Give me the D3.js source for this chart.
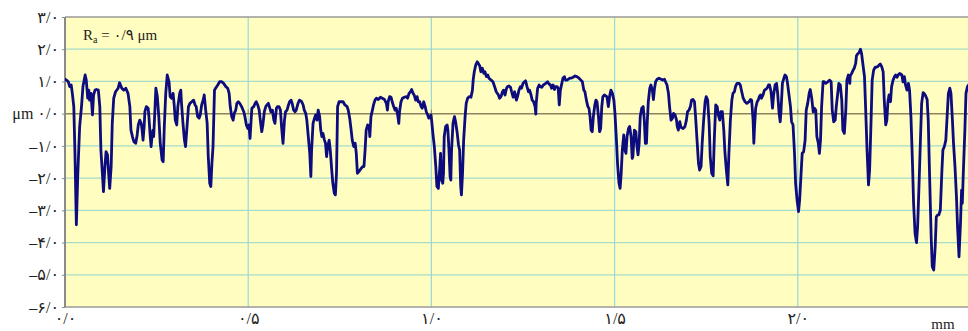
<!DOCTYPE html>
<html>
<head>
<meta charset="utf-8">
<script src="https://cdn.jsdelivr.net/npm/d3@7/dist/d3.min.js"></script>
<style>
  html, body { margin: 0; padding: 0; background: #ffffff; }
  svg { display: block; }
  text { font-family: "Liberation Serif", "DejaVu Serif", "DejaVu Sans", serif; fill: #222; }
</style>
</head>
<body>
<svg id="chart" width="968" height="331"></svg>
<script>
// Surface profile: position along the trace (µm) and profile height (µm)
const positionUm = [
  0,4,9,13,17,20,24,27,31,35,40,45,49,55,58,62,65,67,71,75,78,82,86,91,95,98,102,105,109,112,116,119,122,126,129,133,138,145,149,155,160,166,172,177,180,184,188,193,197,200,204,208,210,213,216,218,222,227,229,232,235,237,240,242,245,248,252,256,260,265,268,271,275,279,284,287,291,295,298,301,305,308,313,316,318,322,326,329,333,337,341,346,351,355,358,362,366,369,373,377,380,384,388,391,395,398,401,
  404,408,411,417,422,428,433,439,444,448,451,455,459,462,466,469,473,477,482,488,491,495,499,502,505,508,510,515,519,522,526,530,533,537,540,544,548,551,555,559,562,566,570,573,577,580,584,588,591,595,599,602,606,610,613,617,620,624,628,631,636,640,646,650,653,657,660,664,668,671,673,677,681,684,688,691,695,698,701,704,708,711,714,717,721,724,728,731,735,738,741,744,748,753,759,764,770,773,777,781,784,788,792,795,798,802,808,813,
  816,819,822,826,830,832,835,839,842,846,850,855,861,866,872,877,880,882,886,890,893,897,901,904,908,911,913,917,921,926,932,935,939,943,946,950,953,957,961,964,968,972,975,979,983,986,990,993,996,999,1001,1004,1008,1012,1015,1019,1023,1025,1028,1031,1033,1035,1039,1043,1045,1048,1051,1053,1055,1059,1063,1066,1070,1074,1077,1080,1082,1085,1088,1092,1095,1099,1103,1108,1112,1114,1117,1121,1125,1128,1132,1135,1139,1143,1146,1150,1154,1157,1163,1168,1174,1177,1183,1186,1190,1194,1197,1201,1205,1208,1212,1216,1219,1223,
  1227,1232,1235,1239,1243,1246,1250,1254,1257,1261,1265,1268,1272,1275,1279,1283,1285,1286,1290,1294,1297,1301,1306,1312,1317,1321,1325,1328,1332,1336,1339,1343,1346,1349,1352,1356,1359,1363,1366,1370,1374,1377,1381,1387,1392,1397,1403,1408,1412,1416,1419,1423,1427,1430,1433,1436,1439,1442,1446,1449,1452,1456,1459,1462,1465,1468,1472,1476,1479,1483,1487,1490,1494,1498,1501,1505,1508,1512,1515,1518,1521,1525,1528,1531,1534,1538,1541,1545,1548,1550,1554,1558,1561,1564,1567,1570,1574,1578,1581,1584,1587,1589,1592,1596,1599,1603,1606,1609,1612,1616,1621,1627,1632,
  1636,1639,1643,1647,1650,1654,1658,1661,1665,1669,1671,1674,1678,1681,1687,1692,1696,1699,1703,1707,1710,1714,1718,1721,1725,1729,1732,1736,1739,1743,1747,1750,1754,1758,1761,1765,1769,1772,1776,1780,1783,1787,1790,1794,1798,1801,1805,1809,1812,1816,1820,1823,1827,1830,1834,1840,1843,1847,1851,1856,1861,1867,1871,1874,1878,1880,1882,1885,1889,1892,1895,1898,1901,1905,1909,1912,1916,1920,1923,1927,1931,1934,1938,1942,1945,1949,1952,1954,1958,1962,1965,1969,1972,1976,1980,1983,1987,1991,1994,1998,2002,2005,2009,2012,2016,2020,2023,2027,2031,2034,2038,2042,
  2045,2049,2052,2056,2059,2062,2065,2069,2072,2076,2082,2087,2091,2094,2098,2102,2105,2109,2112,2116,2120,2123,2127,2131,2134,2138,2142,2143,2147,2151,2154,2158,2160,2163,2167,2171,2174,2178,2182,2185,2189,2193,2196,2200,2203,2207,2211,2214,2218,2222,2225,2229,2233,2236,2240,2243,2246,2249,2253,2256,2260,2264,2267,2271,2274,2278,2284,2287,2291,2294,2298,2302,2305,2309,2313,2316,2320,2324,2327,2331,2335,2338,2342,2345,2349,2353,2356,2360,2364,2367,2371,2375,2378,2382,2385,2389,2393,2396,2400,2404,2407,2411,2415,2418,2422,2425,2429,2433,2436,2440,2444,2447,2449,2452,2456,2459,2463,2466
];
const heightUm = [
  1.07,1.04,0.99,0.84,0.89,0.63,0.22,-1.13,-3.45,-1.85,-0.40,0.22,0.84,1.20,1.04,0.48,0.73,0.42,0.63,-0.04,0.58,0.73,0.75,0.73,0.22,-1.13,-1.85,-2.42,-1.64,-1.18,-1.28,-1.85,-2.32,-1.64,-0.30,0.48,0.68,0.79,0.96,0.79,0.73,0.79,0.63,0.22,-0.51,-0.71,-0.87,-0.92,-0.66,-0.35,-0.20,-0.30,-0.46,-0.82,-0.40,0.06,0.22,0.17,-0.09,-0.61,-1.02,-0.77,-0.51,-0.71,0.01,0.79,0.53,-0.09,-0.92,-1.44,-1.49,-0.40,0.63,1.20,0.99,0.53,0.48,0.63,0.27,-0.20,-0.35,0.22,0.63,0.73,0.32,-0.30,-0.82,-1.02,-0.40,0.22,0.32,0.37,0.42,0.27,0.22,-0.09,-0.14,-0.04,0.27,0.42,0.58,0.11,-0.30,-1.33,-2.16,-2.26,-1.54,
  -1.02,0.73,0.79,0.89,0.99,0.99,0.94,0.84,0.79,0.63,0.22,-0.09,-0.20,0.01,0.11,0.32,0.37,0.32,0.22,0.06,-0.09,-0.35,-0.46,-0.35,-0.77,-0.20,0.17,0.22,0.32,0.37,0.27,0.11,-0.20,-0.56,-0.35,0.06,0.22,0.27,0.32,0.17,0.06,0.11,-0.20,-0.30,0.17,0.22,0.22,0.11,-0.40,-0.92,-0.20,0.06,0.11,0.27,0.37,0.42,0.32,0.11,0.06,0.11,0.32,0.42,0.37,0.27,0.11,0.01,-0.20,-0.71,-1.23,-1.95,-1.13,-0.30,-0.14,-0.04,-0.20,0.11,-0.09,-0.51,-0.71,-0.61,-0.82,-0.92,-1.33,-1.02,-0.82,-1.13,-1.75,-2.16,-2.47,-2.52,-1.85,0.22,0.37,0.37,0.37,0.27,0.22,0.11,-0.14,-0.51,-0.82,-1.02,-0.92,-1.23,-1.85,-1.80,-1.70,-1.64,
  -1.64,-1.13,-0.51,-0.35,-0.40,-0.71,-0.09,0.11,0.27,0.42,0.48,0.44,0.51,0.48,0.44,0.32,0.11,0.37,0.53,0.51,0.37,0.22,0.11,0.17,-0.04,-0.30,0.06,0.37,0.48,0.51,0.53,0.48,0.63,0.68,0.75,0.63,0.58,0.42,0.53,0.37,0.37,0.22,0.17,0.37,0.22,0.06,-0.04,-0.14,-0.09,-0.04,-0.25,-0.61,-1.02,-1.64,-2.26,-2.32,-1.64,-1.23,-2.06,-2.16,-1.85,-0.71,-0.40,-0.35,-0.51,-1.13,-1.95,-2.06,-1.13,-0.30,-0.09,-0.25,-0.56,-0.97,-1.13,-2.26,-2.52,-1.85,-0.82,-0.09,0.32,0.48,0.53,0.51,0.73,1.04,1.30,1.51,1.61,1.56,1.48,1.30,1.41,1.25,1.30,1.15,1.20,1.10,1.04,0.99,0.79,0.68,0.58,0.48,0.53,0.68,0.73,0.58,0.79,0.84,0.86,0.82,0.68,0.51,
  0.68,0.42,0.53,0.73,0.84,0.79,0.94,0.99,1.02,0.84,0.68,0.73,0.58,0.42,0.37,0.22,-0.01,0.32,0.79,0.89,0.84,0.82,0.89,0.94,0.99,0.92,0.89,0.79,0.89,0.75,0.84,0.84,0.79,0.27,0.73,0.94,1.10,1.15,1.04,1.04,1.07,1.10,1.10,1.13,1.17,1.15,1.10,1.04,0.99,0.73,0.68,0.42,0.22,0.17,-0.09,-0.51,-0.56,-0.09,0.27,0.42,0.37,-0.09,-0.56,-0.46,0.22,0.53,0.58,0.55,0.53,0.22,0.58,0.73,0.63,0.42,0.01,-0.82,-1.54,-2.16,-2.32,-1.85,-1.13,-0.66,-1.13,-1.23,-0.71,-0.46,-0.40,-0.71,-1.39,-1.33,-0.51,-0.56,-1.02,-1.28,-0.92,-0.09,0.17,0.22,-0.20,-0.92,-0.92,-0.30,0.37,0.79,0.89,0.73,0.44,0.79,0.99,1.07,1.10,1.07,1.04,
  1.07,0.99,0.89,0.63,0.22,-0.20,-0.14,0.01,-0.04,-0.20,-0.40,-0.51,-0.25,-0.42,-0.46,-0.40,-0.20,0.06,0.11,0.22,0.42,0.44,0.37,-0.09,-0.82,-1.54,-1.75,-1.64,-0.92,-0.20,0.37,0.53,0.42,-0.30,-1.33,-1.85,-1.93,-0.82,0.27,0.22,-0.04,-0.20,0.06,0.06,-0.51,-1.18,-1.75,-2.21,-1.23,-0.20,0.42,0.63,0.68,0.84,0.94,0.94,0.89,0.68,0.48,0.37,0.32,0.37,0.44,0.42,-0.20,-0.92,-0.40,0.17,0.37,0.42,0.53,0.58,0.48,0.58,0.73,0.75,0.79,0.89,0.89,0.68,0.17,0.58,0.89,0.94,0.63,0.01,-0.25,0.06,0.94,1.10,1.20,1.15,0.94,0.58,0.22,-0.25,-0.35,-1.23,-2.16,-2.68,-3.04,-2.68,-1.85,-1.23,-1.18,-0.82,0.11,0.32,0.63,0.75,0.48,0.06,
  0.17,0.11,-0.71,-0.92,-1.23,-0.82,0.22,0.99,0.99,0.94,0.99,1.04,0.99,0.11,-0.25,-0.20,0.22,0.63,0.94,0.89,0.42,-0.51,-0.61,0.11,1.04,1.20,0.94,1.17,1.25,1.35,1.41,1.56,1.79,1.85,1.89,2.00,1.87,1.51,1.15,0.22,-1.13,-2.21,-1.75,-0.20,1.04,1.35,1.44,1.44,1.46,1.51,1.54,1.46,1.30,0.42,-0.35,-0.20,0.37,0.58,0.37,0.84,1.04,1.15,1.20,1.13,1.20,1.25,1.20,0.99,1.15,0.89,0.73,0.94,0.73,-0.14,-1.54,-2.78,-3.71,-4.00,-3.51,-2.16,-0.71,0.32,0.65,0.63,0.55,0.44,-0.20,-2.06,-3.82,-4.75,-4.85,-4.13,-3.20,-3.14,-3.14,-2.99,-1.85,-1.13,-1.02,-0.82,-0.20,0.63,0.79,0.63,-0.20,-0.92,-1.64,-2.57,-3.51,-4.44,-3.40,-2.37,-2.78,-1.75,-0.51,0.63,0.84,0.89
];

// Axis ticks and annotation
const xTicksMm = [0, 0.5, 1.0, 1.5, 2.0];
const yTicksUm = [3, 2, 1, 0, -1, -2, -3, -4, -5, -6];
const yGridUm = [2, 1, -1, -2, -3, -4, -5];
const roughnessRa = 0.9;

const persianDigits = "۰۱۲۳۴۵۶۷۸۹";
function toPersian(v) {
  const s = d3.format(".1f")(Math.abs(v)).replace(/\d/g, d => persianDigits[+d]).replace(".", "/");
  return (v < 0 ? "–" : "") + s;
}

const W = 968, H = 331;
const plot = { left: 65, top: 17, bottom: 307 };
const x = d3.scaleLinear().domain([0, 2.5]).range([plot.left, 981]);
const y = d3.scaleLinear().domain([-6, 3]).range([plot.bottom, plot.top]);

const svg = d3.select("#chart");

svg.append("defs").append("clipPath").attr("id", "plotClip")
  .append("rect")
  .attr("x", plot.left).attr("y", plot.top)
  .attr("width", W - plot.left).attr("height", plot.bottom - plot.top);

// Plot background
svg.append("rect")
  .attr("x", plot.left).attr("y", plot.top)
  .attr("width", W - plot.left).attr("height", plot.bottom - plot.top)
  .attr("fill", "#fffdc0");

// Horizontal grid
svg.append("g").selectAll("line").data(yGridUm).join("line")
  .attr("x1", plot.left).attr("x2", W)
  .attr("y1", d => y(d)).attr("y2", d => y(d))
  .attr("stroke", "#a6dccb").attr("stroke-width", 1.2);

// Vertical grid
svg.append("g").selectAll("line").data(xTicksMm.filter(d => d > 0)).join("line")
  .attr("x1", d => x(d)).attr("x2", d => x(d))
  .attr("y1", plot.top).attr("y2", plot.bottom)
  .attr("stroke", "#98d9dc").attr("stroke-width", 1.2);

// Zero reference line with small marks
svg.append("line")
  .attr("x1", plot.left).attr("x2", W)
  .attr("y1", y(0)).attr("y2", y(0))
  .attr("stroke", "#8e8260").attr("stroke-width", 1.5);
svg.append("g").selectAll("line").data(xTicksMm.filter(d => d > 0)).join("line")
  .attr("x1", d => x(d)).attr("x2", d => x(d))
  .attr("y1", y(0) - 4).attr("y2", y(0))
  .attr("stroke", "#8e8260").attr("stroke-width", 1);

// Frame
svg.append("line").attr("x1", plot.left).attr("x2", W).attr("y1", plot.top).attr("y2", plot.top)
  .attr("stroke", "#9a9a9a").attr("stroke-width", 1.5);
svg.append("line").attr("x1", plot.left).attr("x2", W).attr("y1", plot.bottom).attr("y2", plot.bottom)
  .attr("stroke", "#9a9a9a").attr("stroke-width", 1.5);
svg.append("line").attr("x1", plot.left).attr("x2", plot.left).attr("y1", plot.top).attr("y2", plot.bottom)
  .attr("stroke", "#8a8a8a").attr("stroke-width", 2);

// Y axis labels
const yAxis = d3.axisLeft(y).tickValues(yTicksUm).tickSize(3).tickPadding(3)
  .tickFormat(d => d === 0 ? "μm " + toPersian(d) : toPersian(d));
const gy = svg.append("g").attr("transform", `translate(${plot.left},0)`).call(yAxis);
gy.select(".domain").remove();
gy.selectAll(".tick line").attr("stroke", "#8a8a8a");
gy.selectAll(".tick text").attr("font-size", 16).attr("fill", "#222")
  .attr("font-family", "'Liberation Serif', 'DejaVu Sans', serif");

// X axis labels
const xAxis = d3.axisBottom(x).tickValues(xTicksMm).tickSize(0).tickPadding(6)
  .tickFormat(d => toPersian(d));
const gx = svg.append("g").attr("transform", `translate(0,${plot.bottom})`).call(xAxis);
gx.select(".domain").remove();
gx.selectAll(".tick text").attr("font-size", 16).attr("fill", "#222")
  .attr("font-family", "'Liberation Serif', 'DejaVu Sans', serif");

svg.append("text").attr("x", 943).attr("y", 329).attr("text-anchor", "middle")
  .attr("font-size", 15).text("mm");

// Roughness annotation
const ra = svg.append("text").attr("x", 83).attr("y", 40).attr("font-size", 15);
ra.append("tspan").text("R");
ra.append("tspan").attr("font-size", 10).attr("dy", 3).text("a");
ra.append("tspan").attr("dy", -3).text(" = " + toPersian(roughnessRa) + " μm");

// Profile trace
const points = positionUm.map((p, i) => [p / 1000, heightUm[i]]);
svg.append("path")
  .datum(points)
  .attr("clip-path", "url(#plotClip)")
  .attr("fill", "none")
  .attr("stroke", "#0c0c7e")
  .attr("stroke-width", 2.8)
  .attr("stroke-linejoin", "round")
  .attr("stroke-linecap", "round")
  .attr("d", d3.line().x(d => x(d[0])).y(d => y(d[1])));
</script>
</body>
</html>
